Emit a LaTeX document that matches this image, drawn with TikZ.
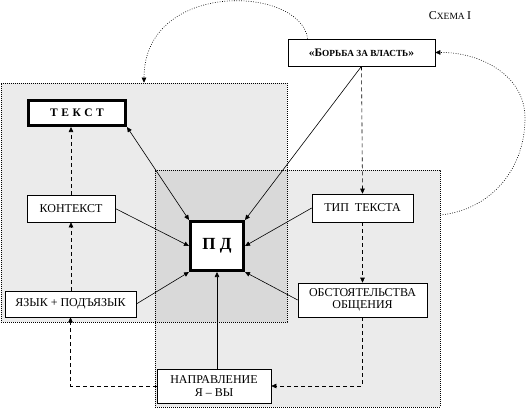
\documentclass[tikz,border=0pt]{standalone}
\usepackage{fontspec}
\setmainfont{Liberation Serif}
\usetikzlibrary{arrows.meta}
\begin{document}
\begin{tikzpicture}[x=1pt,y=-1pt,
  box/.style={draw, line width=0.6pt, fill=white, inner sep=0pt, align=center,
    font=\fontsize{12}{12.5}\selectfont},
  thickbox/.style={box, line width=3pt},
  region/.style={draw, dash pattern=on 0.8pt off 1.2pt, line width=0.6pt, fill=black,
    fill opacity=0.08, text opacity=1, inner sep=0pt},
  arr/.style={line width=0.6pt, -{Triangle[length=5pt,width=4.5pt]}},
  darr/.style={line width=0.6pt, {Triangle[length=5pt,width=4.5pt]}-{Triangle[length=5pt,width=4.5pt]}},
  dsh/.style={dash pattern=on 4pt off 3pt},
  dots/.style={dash pattern=on 0.8pt off 1.6pt}]
\useasboundingbox (0,0) rectangle (526,409);
% shaded regions
\node[region, minimum width=286pt, minimum height=239pt] (r1) at (144,202.5) {};
\node[region, minimum width=285pt, minimum height=237pt] (r2) at (297.5,288.5) {};
% title
\node[inner sep=0pt] (sx) at (450,16) {\fontsize{12}{12}\selectfont С\fontsize{9.5}{10}\selectfont ХЕМА \fontsize{12}{12}\selectfont I};
% boxes
\node[box, minimum width=147pt, minimum height=27pt, font=\bfseries] (bor) at (361.5,52.5)
  {\fontsize{11.5}{11}\selectfont «Б\fontsize{9.3}{9}\selectfont ОРЬБА ЗА ВЛАСТЬ\fontsize{11.5}{11}\selectfont »};
\node[thickbox, minimum width=97pt, minimum height=25pt, font=\bfseries\fontsize{11.5}{13}\selectfont] (tek) at (77,113)
  {Т\hspace{3.5pt}Е\hspace{3.5pt}К\hspace{3.5pt}С\hspace{3.5pt}Т};
\node[box, minimum width=88pt, minimum height=27pt] (kon) at (71,208.5) {КОНТЕКСТ};
\node[box, minimum width=101pt, minimum height=28pt] (tip) at (362.5,208) {ТИП\ \ ТЕКСТА};
\node[thickbox, minimum width=53pt, minimum height=49pt, font=\bfseries\fontsize{17}{20}\selectfont] (pd) at (217,246) {П Д};
\node[box, minimum width=131pt, minimum height=26pt] (yaz) at (70.5,304) {ЯЗЫК + ПОДЪЯЗЫК};
\node[box, minimum width=129pt, minimum height=34pt] (obs) at (362.5,300) {ОБСТОЯТЕЛЬСТВА\\ОБЩЕНИЯ};
\node[box, minimum width=114pt, minimum height=34pt] (nap) at (214,386) {НАПРАВЛЕНИЕ\\Я – ВЫ};
% solid connectors
\draw[darr] (tek.south east) -- (pd.north west);
\draw[arr] (bor.south) -- (pd.north east);
\draw[arr] (kon.east) -- (pd.west);
\draw[arr] (tip.west) -- (pd.east);
\draw[arr] (yaz.east) -- (pd.south west);
\draw[arr] (obs.west) -- (pd.south east);
\draw[arr] (pd.south |- nap.north) -- (pd.south);
% dashed connectors
\draw[arr, dsh] (bor.south) -- (tip.north);
\draw[arr, dsh] (tip.south) -- (obs.north);
\draw[arr, dsh] (kon.north) -- (kon.north |- tek.south);
\draw[arr, dsh] (kon.south |- yaz.north) -- (kon.south);
\draw[arr, dsh] (obs.south) |- (nap.east);
\draw[arr, dsh] (nap.west) -| (yaz.south);
% dotted curves
\coordinate (c215) at (0,215);
\draw[arr, dots] ([xshift=20pt]bor.north west) .. controls (300,-15) and (144,-20) .. (r1.north);
\draw[arr, dots] (r2.east |- c215) .. controls (490,210) and (525,170) .. (525,118)
  .. controls (525,75) and (480,52) .. (bor.east);
\end{tikzpicture}
\end{document}
